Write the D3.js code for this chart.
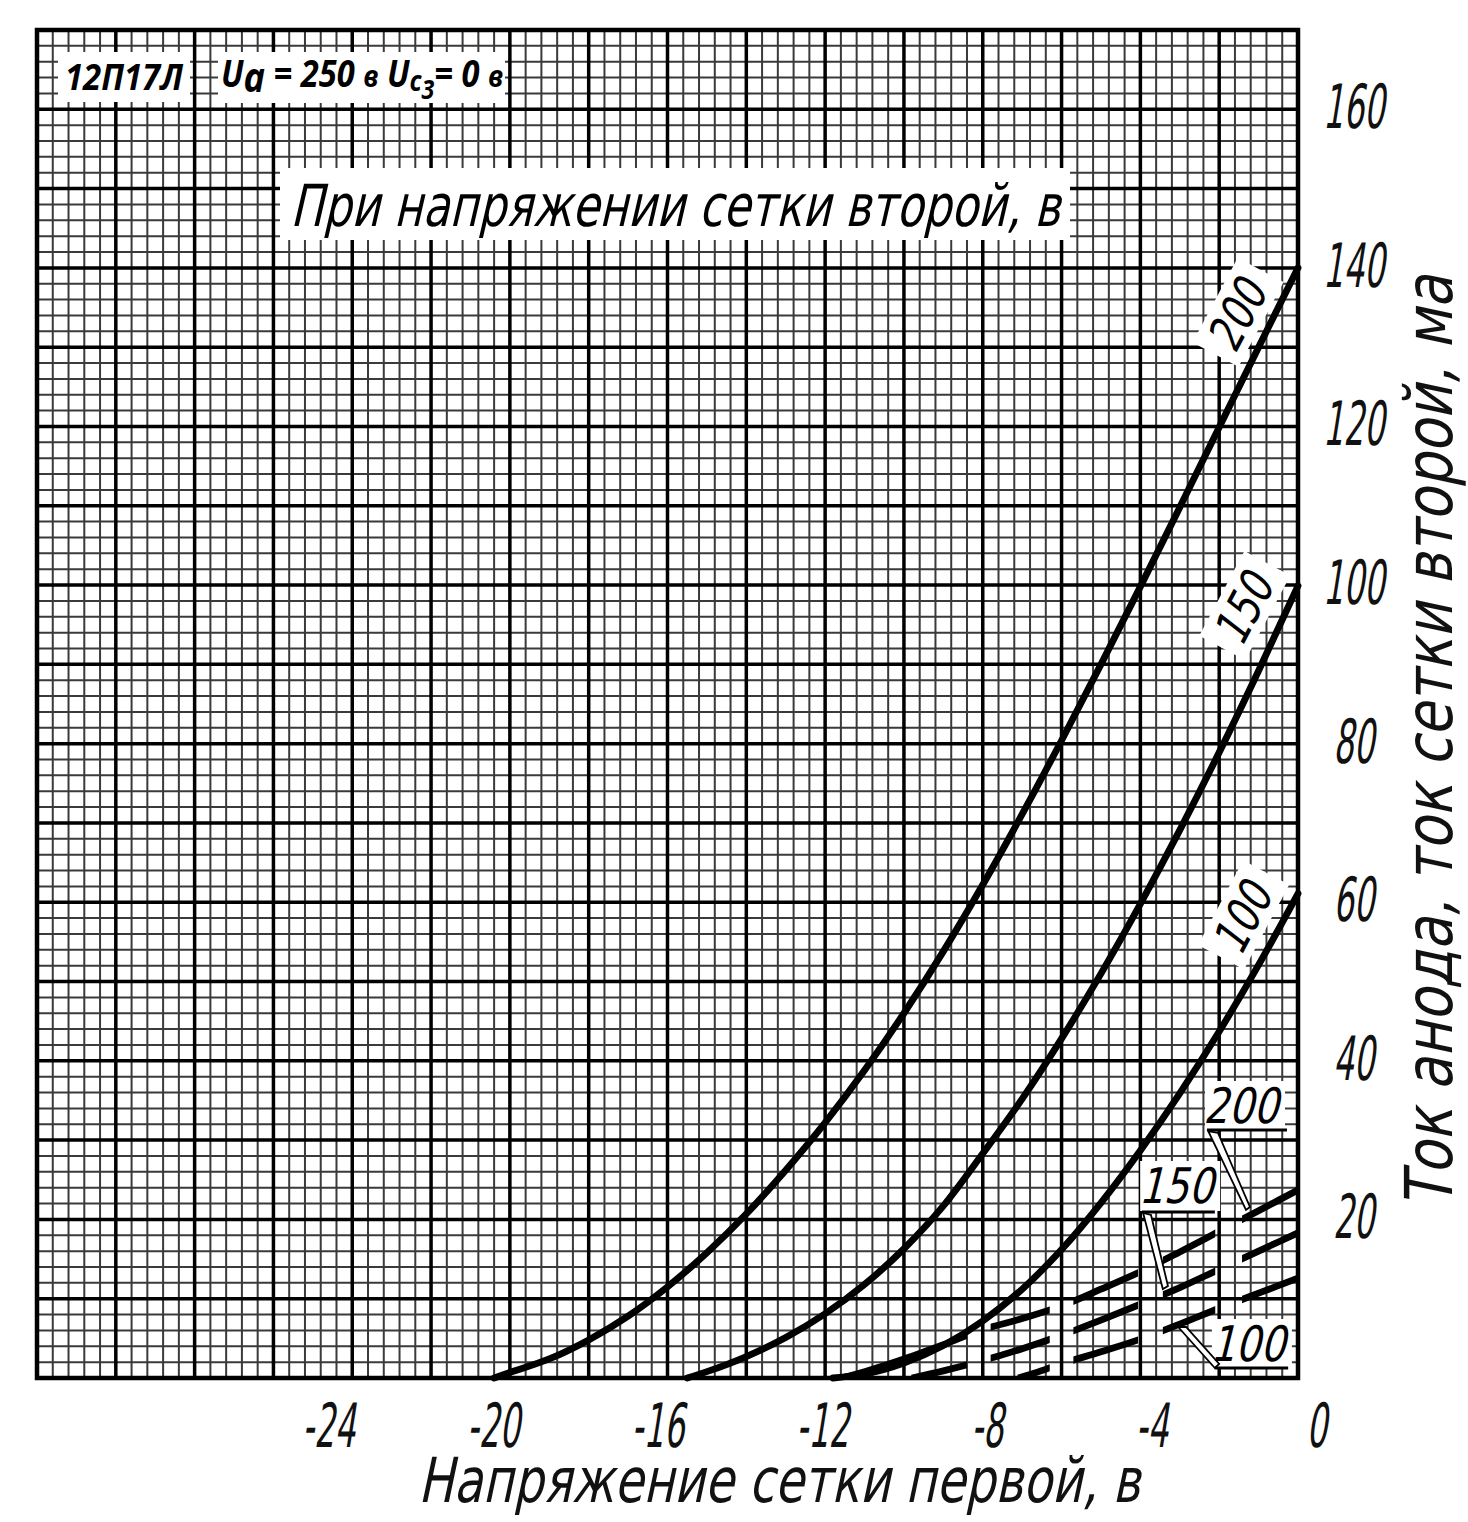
<!DOCTYPE html>
<html><head><meta charset="utf-8">
<script src="https://cdn.jsdelivr.net/npm/d3@7"></script>
<style>body{margin:0;background:#fff} svg{display:block}</style>
</head><body>
<svg id="chart" width="1468" height="1522"></svg>
<script>
// ---------- DATA (grid voltage U_c1 in V, current in mA) ----------
const screenVoltages = ["200", "150", "100"];
// anode current, solid curves
const anode200 = [[-20.4,0],[-20,0.7],[-19,2.4],[-18,4.8],[-17,7.8],[-16,11.5],[-15,15.8],[-14,20.7],[-13,26.2],[-12,32.2],[-11,38.8],[-10,46.0],[-9,53.8],[-8,62.2],[-7,71.1],[-6,80.4],[-5,90.0],[-4,99.8],[-3,109.8],[-2,119.9],[-1,130.0],[0,140.0]];
const anode150 = [[-15.5,0],[-15,0.8],[-14,2.7],[-13,5.1],[-12,8.1],[-11,11.8],[-10,16.3],[-9,21.7],[-8,28.3],[-7,35.2],[-6,42.8],[-5,51.0],[-4,59.8],[-3,69.1],[-2,78.9],[-1,89.2],[0,99.9]];
const anode100 = [[-11.8,0],[-11,0.5],[-10,1.9],[-9,4.1],[-8,7.2],[-7,11.2],[-6,16.2],[-5,22.1],[-4,28.7],[-3,35.9],[-2,43.7],[-1,52.1],[0,61.1]];
// screen-grid current, dashed curves
const screen200 = [[-11.6,0],[-11,0.8],[-10,2.4],[-9,4.2],[-8,6.1],[-7,7.5],[-6,9.1],[-5,11.2],[-4,13.4],[-3,15.9],[-2,18.5],[-1,21.1],[0,23.7]];
const screen150 = [[-9.8,0],[-9,0.9],[-8,2.2],[-7,3.7],[-6,5.4],[-5,7.3],[-4,9.3],[-3,11.4],[-2,13.7],[-1,16.0],[0,18.3]];
const screen100 = [[-7.1,0],[-6.7,0.6],[-6,1.8],[-5,3.3],[-4,4.9],[-3,6.8],[-2,8.8],[-1,10.7],[0,12.6]];
// tick labels
const xTickValues = [-24, -20, -16, -12, -8, -4, 0];
const yTickValues = [20, 40, 60, 80, 100, 120, 140, 160];
// texts
const tubeName = "12П17Л";
const topTitle = "При  напряжении  сетки  второй,  в";
const xTitle = "Напряжение  сетки  первой,  в";
const yTitle = "Ток  анода,  ток  сетки  второй,  ма";

// ---------- LAYOUT ----------
const svg = d3.select("#chart");
const L = 37, R = 1298, T = 30, B = 1378;
const x = d3.scaleLinear().domain([-32, 0]).range([L, R]);
const y = d3.scaleLinear().domain([0, 170]).range([B, T]);
const font = "'DejaVu Sans', sans-serif";

svg.append("rect").attr("width", 1468).attr("height", 1522).attr("fill", "#fff");

// grid
const grid = svg.append("g");
const minorX = d3.range(0, 81).map(i => -32 + i * 0.4);
const minorY = d3.range(0, 86).map(i => i * 2);
grid.selectAll(".mx").data(minorX.filter((d, i) => i % 5 !== 0)).join("line")
  .attr("x1", d => x(d)).attr("x2", d => x(d)).attr("y1", T).attr("y2", B)
  .attr("stroke", "#3a3a3a").attr("stroke-width", 2);
grid.selectAll(".my").data(minorY.filter((d, i) => i % 5 !== 0)).join("line")
  .attr("y1", d => y(d)).attr("y2", d => y(d)).attr("x1", L).attr("x2", R)
  .attr("stroke", "#3a3a3a").attr("stroke-width", 2);
grid.selectAll(".Mx").data(minorX.filter((d, i) => i % 5 === 0)).join("line")
  .attr("x1", d => x(d)).attr("x2", d => x(d)).attr("y1", T).attr("y2", B)
  .attr("stroke", "#000").attr("stroke-width", 3.5);
grid.selectAll(".My").data(minorY.filter((d, i) => i % 5 === 0)).join("line")
  .attr("y1", d => y(d)).attr("y2", d => y(d)).attr("x1", L).attr("x2", R)
  .attr("stroke", "#000").attr("stroke-width", 3.5);
svg.append("rect").attr("x", L).attr("y", T).attr("width", R - L).attr("height", B - T)
  .attr("fill", "none").attr("stroke", "#000").attr("stroke-width", 4.5);

// white boxes with header texts
svg.append("rect").attr("x", 58).attr("y", 52).attr("width", 132).attr("height", 50).attr("fill", "#fff");
svg.append("rect").attr("x", 218).attr("y", 52).attr("width", 287).attr("height", 51).attr("fill", "#fff");
svg.append("rect").attr("x", 280).attr("y", 168).attr("width", 790).attr("height", 72).attr("fill", "#fff");

svg.append("text").attr("x", 65).attr("y", 90)
  .attr("font-family", "'Open Sans', sans-serif").attr("font-weight", 700).attr("font-style", "italic")
  .attr("font-size", 35).attr("textLength", 118).attr("lengthAdjust", "spacingAndGlyphs").text(tubeName);

const hdr = svg.append("text").attr("transform", "translate(221,87) scale(0.86,1)")
  .attr("font-family", "'Open Sans', sans-serif").attr("font-weight", 700).attr("font-style", "italic")
  .attr("font-size", 38);
hdr.append("tspan").text("U");
hdr.append("tspan").attr("font-size", 42).attr("dy", 5).text("a");
hdr.append("tspan").attr("dy", -5).text(" = 250 ");
hdr.append("tspan").attr("font-size", 31).text("в");
hdr.append("tspan").text(" U");
hdr.append("tspan").attr("font-size", 29).attr("dy", 4).text("c");
hdr.append("tspan").attr("font-size", 27).attr("dy", 8).text("3");
hdr.append("tspan").attr("dy", -12).text("= 0 ");
hdr.append("tspan").attr("font-size", 31).text("в");

svg.append("text").attr("transform", "translate(290,226) skewX(-13)")
  .attr("font-family", font).attr("font-size", 58)
  .attr("textLength", 770).attr("lengthAdjust", "spacingAndGlyphs").text(topTitle);

// axis titles
svg.append("text").attr("transform", "translate(418,1502) skewX(-12)")
  .attr("font-family", font).attr("font-size", 62).attr("fill", "#111")
  .attr("textLength", 722).attr("lengthAdjust", "spacingAndGlyphs").text(xTitle);
svg.append("text").attr("transform", "translate(1452,1208) rotate(-90) skewX(-12)")
  .attr("font-family", font).attr("font-size", 66).attr("fill", "#111")
  .attr("textLength", 933).attr("lengthAdjust", "spacingAndGlyphs").text(yTitle);

// tick labels
const xLabelPos = d3.scaleLinear().domain([-24, 0]).range([x(-24) - 20, x(0) + 22]);
svg.append("g").selectAll("text").data(xTickValues).join("text")
  .attr("transform", d => `translate(${xLabelPos(d)},1425) skewX(-9) scale(0.53,1)`)
  .attr("text-anchor", "middle").attr("dy", "0.36em")
  .attr("font-family", font).attr("font-size", 61).attr("fill", "#111")
  .text(d => d === 0 ? "0" : "-" + Math.abs(d));
svg.append("g").selectAll("text").data(yTickValues).join("text")
  .attr("transform", d => `translate(1357,${y(d) - 3}) skewX(-9) scale(0.53,1)`)
  .attr("text-anchor", "middle").attr("dy", "0.36em")
  .attr("font-family", font).attr("font-size", 61).attr("fill", "#111")
  .text(d => String(d));

// curves
const line = d3.line().x(d => x(d[0])).y(d => y(d[1])).curve(d3.curveMonotoneX);
const solid = [anode200, anode150, anode100];
svg.append("g").selectAll("path").data(solid).join("path")
  .attr("d", line).attr("fill", "none").attr("stroke", "#000")
  .attr("stroke-width", 6.8).attr("stroke-linecap", "round");

// dashed curves: dashes interrupted at the same voltages
const dashIntervals = [[-12, -8.4], [-7.8, -6.3], [-5.7, -4.06], [-3.43, -2.1], [-1.42, 0.2]];
const clip = svg.append("defs").append("clipPath").attr("id", "dashclip");
clip.selectAll("rect").data(dashIntervals).join("rect")
  .attr("x", d => x(d[0])).attr("width", d => x(d[1]) - x(d[0]))
  .attr("y", T).attr("height", B - T);
const dashed = [screen200, screen150, screen100];
svg.append("g").attr("clip-path", "url(#dashclip)")
  .selectAll("path").data(dashed).join("path")
  .attr("d", line).attr("fill", "none").attr("stroke", "#000").attr("stroke-width", 6.8);

// curve labels (rotated, on white)
const curveLabelAnchors = [[-1.52, 134.4], [-1.35, 97.4], [-1.38, 58.4]];
const cl = svg.append("g").selectAll("g").data(screenVoltages).join("g")
  .attr("transform", (d, i) => `translate(${x(curveLabelAnchors[i][0])},${y(curveLabelAnchors[i][1])}) rotate(-62)`);
cl.append("rect").attr("x", -48).attr("y", -26).attr("width", 96).attr("height", 52).attr("fill", "#fff");
cl.append("text").attr("transform", "skewX(-10) scale(0.78,1)").attr("text-anchor", "middle").attr("dy", "0.36em")
  .attr("font-family", font).attr("font-size", 48).text(d => d);

// legend labels of dashed curves
const legendAnchors = [[-1.345, 34.43], [-2.99, 24.34], [-1.17, 4.41]];
const underlines = [[-2.31, -0.28, 31.28], [-3.96, -2.11, 20.94], [-2.11, -0.25, 1.26]];
const leaders = [
  [[-2.28, 31.15], [-2.03, 30.9], [-1.22, 21.57], [-1.32, 21.19]],
  [[-3.93, 20.81], [-3.73, 20.56], [-3.30, 11.6], [-3.43, 11.22]],
  [[-3.04, 6.43], [-2.84, 6.43], [-2.0, 1.77], [-2.11, 1.26]]
];
const lg = svg.append("g");
lg.selectAll("rect").data(screenVoltages).join("rect")
  .attr("x", (d, i) => x(legendAnchors[i][0]) - 40).attr("y", (d, i) => y(legendAnchors[i][1]) - 24)
  .attr("width", 80).attr("height", 50).attr("fill", "#fff");
lg.selectAll("polygon").data(leaders).join("polygon")
  .attr("points", d => d.map(p => [x(p[0]), y(p[1])].join(",")).join(" "))
  .attr("fill", "#fff").attr("stroke", "#000").attr("stroke-width", 1.8);
lg.selectAll("line").data(underlines).join("line")
  .attr("x1", d => x(d[0])).attr("x2", d => x(d[1])).attr("y1", d => y(d[2])).attr("y2", d => y(d[2]))
  .attr("stroke", "#000").attr("stroke-width", 3);
lg.selectAll("text").data(screenVoltages).join("text")
  .attr("transform", (d, i) => `translate(${x(legendAnchors[i][0])},${y(legendAnchors[i][1])}) skewX(-14) scale(0.8,1)`)
  .attr("text-anchor", "middle").attr("dy", "0.36em")
  .attr("font-family", font).attr("font-size", 49).text(d => d);
</script>
</body></html>
